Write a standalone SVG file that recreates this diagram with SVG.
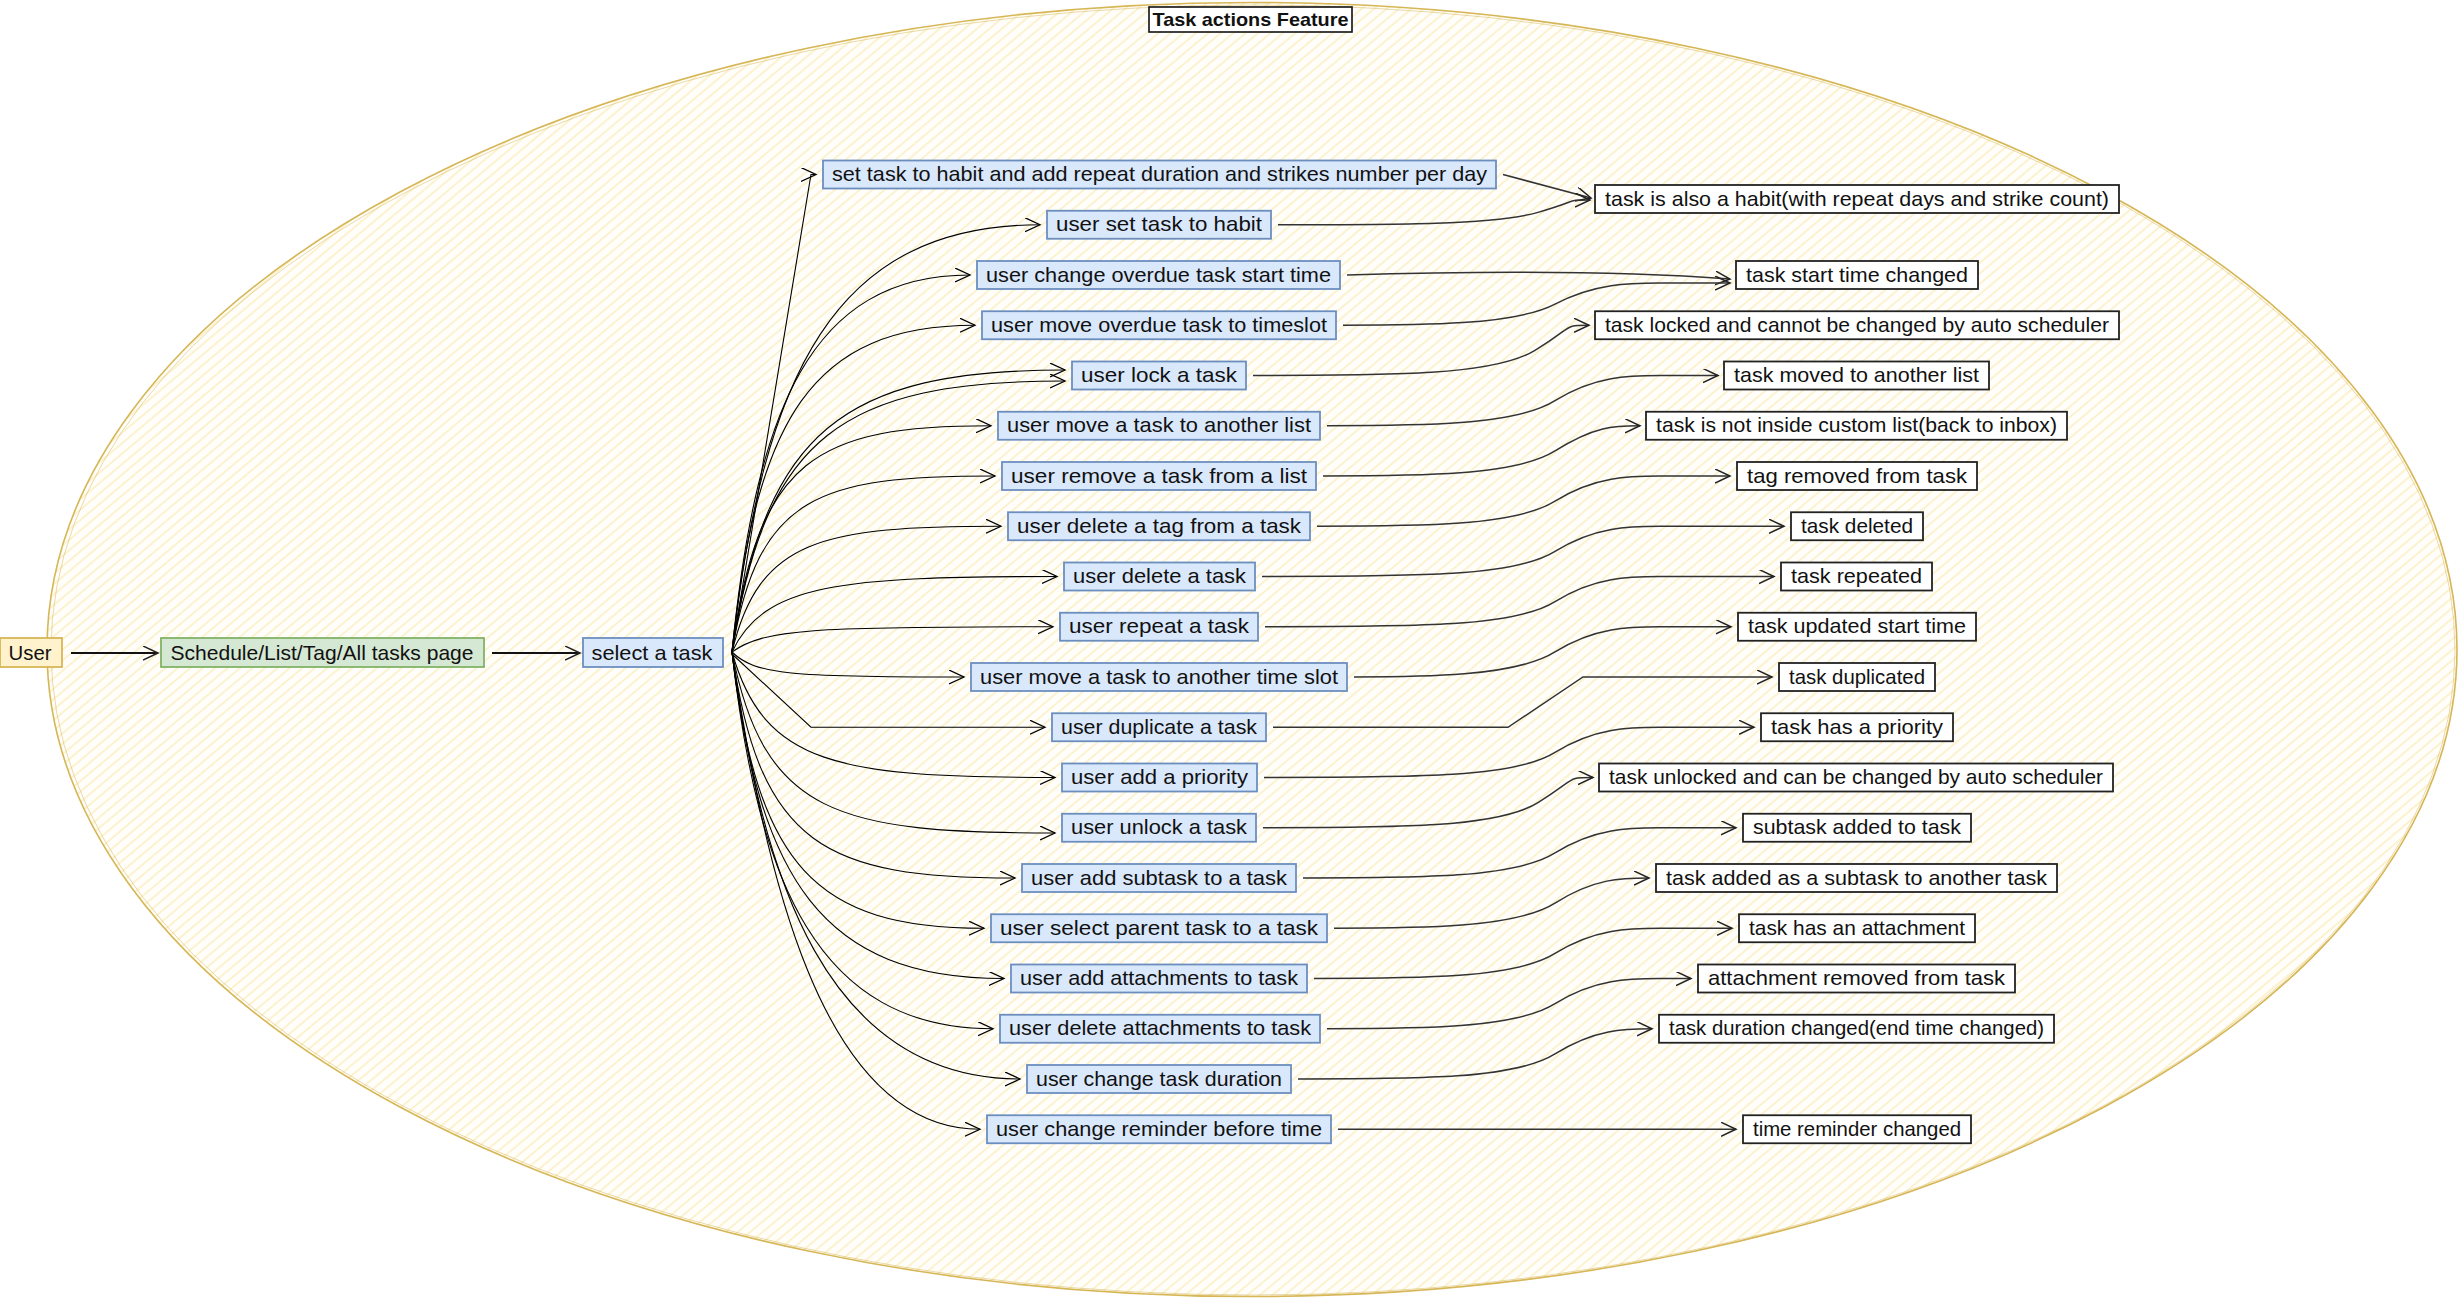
<svg xmlns="http://www.w3.org/2000/svg" width="2460" height="1299" viewBox="0 0 2460 1299">
<defs>
<pattern id="hatch" width="8" height="8" patternUnits="userSpaceOnUse" patternTransform="rotate(50)">
<rect width="8" height="8" fill="#fffefa"/>
<line x1="2" y1="0" x2="2" y2="8" stroke="#fcf0c8" stroke-width="1.7"/>
</pattern>
<marker id="arr" markerUnits="userSpaceOnUse" markerWidth="18" markerHeight="16" refX="15" refY="7" orient="auto">
<path d="M0,0 L15,7 L0,14" fill="none" stroke="#000" stroke-width="1.3"/>
</marker>
<marker id="arr2" markerUnits="userSpaceOnUse" markerWidth="18" markerHeight="16" refX="15" refY="7" orient="auto">
<path d="M0,0 L15,7 L0,14" fill="none" stroke="#222" stroke-width="1.5"/>
</marker>
</defs>
<style>
text{font-family:"Liberation Sans",Arial,sans-serif;font-size:21px;fill:#111;text-anchor:middle}
.blue rect{fill:#dae8fc;stroke:#6c8ebf;stroke-width:1.8}
.res rect{fill:#fff;stroke:#222;stroke-width:1.8}
.fan path{fill:none;stroke:#000;stroke-width:1.1;marker-end:url(#arr)}
.out path{fill:none;stroke:#333;stroke-width:1.5;marker-end:url(#arr2)}
.lead path{fill:none;stroke:#111;stroke-width:2;marker-end:url(#arr2)}
</style>
<rect width="2460" height="1299" fill="#fff"/>
<g id="container">
<ellipse cx="1252" cy="649.5" rx="1205" ry="647" fill="url(#hatch)" stroke="#d6b656" stroke-width="1.6"/>
<ellipse cx="1253" cy="650" rx="1202" ry="645" fill="none" stroke="#d6b656" stroke-width="1" stroke-opacity="0.5"/>
</g>
<g id="title">
<rect x="1149" y="7" width="203" height="25" fill="#fff" stroke="#111" stroke-width="1.6"/>
<text x="1250.5" y="26" style="font-weight:bold;font-size:19px" textLength="196" lengthAdjust="spacingAndGlyphs">Task actions Feature</text>
</g>
<g id="connectors">
<g class="lead">
<path d="M71,653 L158,653"/>
<path d="M492,653 L580,653"/>
</g>
<g class="fan">
<path d="M732,650 L811,174.5 L816,174.5"/>
<path d="M732,652 C763,374 834,224.75 1040,224.75"/>
<path d="M732,652 C756,410 810,275 970,275"/>
<path d="M732,652 C756,418 812,325.25 975,325.25"/>
<path d="M732,652 C765,432 842,370 1065,370"/>
<path d="M732,652 C765,436 842,381 1065,381"/>
<path d="M732,652 C758,457 817,425.75 991,425.75"/>
<path d="M732,652 C758,494 819,476 995,476"/>
<path d="M732,652 C759,539 821,526.25 1001,526.25"/>
<path d="M732,652 C764,584 839,576.5 1057,576.5"/>
<path d="M732,652 C764,629 812,626.75 1053,626.75"/>
<path d="M732,652 C755,674.5 790,677 964,677"/>
<path d="M732,654 L811,727.25 L1045,727.25"/>
<path d="M732,652 C764,765 838,777.5 1055,777.5"/>
<path d="M732,652 C764,815 838,833 1055,833"/>
<path d="M732,652 C760,846 825,878 1015,878"/>
<path d="M732,652 C757,866 815,928.25 984,928.25"/>
<path d="M732,652 C759,879 822,978.5 1004,978.5"/>
<path d="M732,652 C758,883 818,1028.75 993,1028.75"/>
<path d="M732,652 C761,879 827,1079 1020,1079"/>
<path d="M732,652 C764,867 820,1129.25 980,1129.25"/>
</g>
<g class="out">
<path d="M1503,174.5 L1591,198"/>
<path d="M1278,224.75 C1395,224.75 1495,224.75 1538,212.4 S1565,200 1590,200"/>
<path d="M1347,275 Q1580,268 1730,279"/>
<path d="M1343,325.25 C1420,325.25 1515,325.25 1555,304.1 S1630,283 1660,283 L1730,283"/>
<path d="M1253,375.5 C1394,375.5 1494,375.5 1535,350.4 S1562,325.25 1589,325.25"/>
<path d="M1327,425.75 C1420,425.75 1515,425.75 1555,400.6 S1630,375.5 1660,375.5 L1718,375.5"/>
<path d="M1323,476 C1420,476 1515,476 1555,450.9 S1614,425.75 1640,425.75"/>
<path d="M1317,526.25 C1420,526.25 1515,526.25 1555,501.1 S1630,476 1660,476 L1730,476"/>
<path d="M1262,576.5 C1420,576.5 1515,576.5 1555,551.4 S1630,526.25 1660,526.25 L1784,526.25"/>
<path d="M1265,626.75 C1420,626.75 1515,626.75 1555,601.6 S1630,576.5 1660,576.5 L1774,576.5"/>
<path d="M1354,677 C1420,677 1515,677 1555,651.9 S1630,626.75 1660,626.75 L1731,626.75"/>
<path d="M1273,727.25 L1508,727.25 L1583,677 L1772,677"/>
<path d="M1264,777.5 C1420,777.5 1515,777.5 1555,752.4 S1630,727.25 1660,727.25 L1754,727.25"/>
<path d="M1263,827.75 C1398,827.75 1498,827.75 1538,802.6 S1566,777.5 1593,777.5"/>
<path d="M1303,878 C1420,878 1515,878 1555,852.9 S1630,827.75 1660,827.75 L1736,827.75"/>
<path d="M1334,928.25 C1420,928.25 1515,928.25 1555,903.1 S1622,878 1649,878"/>
<path d="M1314,978.5 C1420,978.5 1515,978.5 1555,953.4 S1630,928.25 1660,928.25 L1732,928.25"/>
<path d="M1327,1028.75 C1420,1028.75 1515,1028.75 1555,1003.6 S1630,978.5 1660,978.5 L1691,978.5"/>
<path d="M1298,1079 C1420,1079 1515,1079 1555,1053.9 S1625,1028.75 1652,1028.75"/>
<path d="M1338,1129.25 L1736,1129.25"/>
</g>
</g>
<g id="user"><rect x="0" y="638" width="62" height="29" fill="#fff2cc" stroke="#d6b656" stroke-width="1.8"/><text x="30" y="659.5" textLength="43" lengthAdjust="spacingAndGlyphs">User</text></g>
<g id="page"><rect x="161" y="638" width="323" height="29" fill="#d5e8d4" stroke="#82b366" stroke-width="1.8"/><text x="322" y="659.5" textLength="303" lengthAdjust="spacingAndGlyphs">Schedule/List/Tag/All tasks page</text></g>
<g id="select" class="blue"><rect x="583" y="638" width="140" height="29"/><text x="652" y="659.5" textLength="121" lengthAdjust="spacingAndGlyphs">select a task</text></g>
<g id="a0" class="blue"><rect x="823" y="160.5" width="673" height="28"/><text x="1159.5" y="181" textLength="655" lengthAdjust="spacingAndGlyphs">set task to habit and add repeat duration and strikes number per day</text></g>
<g id="a1" class="blue"><rect x="1047" y="210.75" width="224" height="28"/><text x="1159" y="231.25" textLength="206" lengthAdjust="spacingAndGlyphs">user set task to habit</text></g>
<g id="a2" class="blue"><rect x="977" y="261" width="363" height="28"/><text x="1158.5" y="281.5" textLength="345" lengthAdjust="spacingAndGlyphs">user change overdue task start time</text></g>
<g id="a3" class="blue"><rect x="982" y="311.25" width="354" height="28"/><text x="1159" y="331.75" textLength="336" lengthAdjust="spacingAndGlyphs">user move overdue task to timeslot</text></g>
<g id="a4" class="blue"><rect x="1072" y="361.5" width="174" height="28"/><text x="1159" y="382" textLength="156" lengthAdjust="spacingAndGlyphs">user lock a task</text></g>
<g id="a5" class="blue"><rect x="998" y="411.75" width="322" height="28"/><text x="1159" y="432.25" textLength="304" lengthAdjust="spacingAndGlyphs">user move a task to another list</text></g>
<g id="a6" class="blue"><rect x="1002" y="462" width="314" height="28"/><text x="1159" y="482.5" textLength="296" lengthAdjust="spacingAndGlyphs">user remove a task from a list</text></g>
<g id="a7" class="blue"><rect x="1008" y="512.25" width="302" height="28"/><text x="1159" y="532.75" textLength="284" lengthAdjust="spacingAndGlyphs">user delete a tag from a task</text></g>
<g id="a8" class="blue"><rect x="1064" y="562.5" width="191" height="28"/><text x="1159.5" y="583" textLength="173" lengthAdjust="spacingAndGlyphs">user delete a task</text></g>
<g id="a9" class="blue"><rect x="1060" y="612.75" width="198" height="28"/><text x="1159" y="633.25" textLength="180" lengthAdjust="spacingAndGlyphs">user repeat a task</text></g>
<g id="a10" class="blue"><rect x="971" y="663" width="376" height="28"/><text x="1159" y="683.5" textLength="358" lengthAdjust="spacingAndGlyphs">user move a task to another time slot</text></g>
<g id="a11" class="blue"><rect x="1052" y="713.25" width="214" height="28"/><text x="1159" y="733.75" textLength="196" lengthAdjust="spacingAndGlyphs">user duplicate a task</text></g>
<g id="a12" class="blue"><rect x="1062" y="763.5" width="195" height="28"/><text x="1159.5" y="784" textLength="177" lengthAdjust="spacingAndGlyphs">user add a priority</text></g>
<g id="a13" class="blue"><rect x="1062" y="813.75" width="194" height="28"/><text x="1159" y="834.25" textLength="176" lengthAdjust="spacingAndGlyphs">user unlock a task</text></g>
<g id="a14" class="blue"><rect x="1022" y="864" width="274" height="28"/><text x="1159" y="884.5" textLength="256" lengthAdjust="spacingAndGlyphs">user add subtask to a task</text></g>
<g id="a15" class="blue"><rect x="991" y="914.25" width="336" height="28"/><text x="1159" y="934.75" textLength="318" lengthAdjust="spacingAndGlyphs">user select parent task to a task</text></g>
<g id="a16" class="blue"><rect x="1011" y="964.5" width="296" height="28"/><text x="1159" y="985" textLength="278" lengthAdjust="spacingAndGlyphs">user add attachments to task</text></g>
<g id="a17" class="blue"><rect x="1000" y="1014.75" width="320" height="28"/><text x="1160" y="1035.25" textLength="302" lengthAdjust="spacingAndGlyphs">user delete attachments to task</text></g>
<g id="a18" class="blue"><rect x="1027" y="1065" width="264" height="28"/><text x="1159" y="1085.5" textLength="246" lengthAdjust="spacingAndGlyphs">user change task duration</text></g>
<g id="a19" class="blue"><rect x="987" y="1115.25" width="344" height="28"/><text x="1159" y="1135.75" textLength="326" lengthAdjust="spacingAndGlyphs">user change reminder before time</text></g>
<g id="r0" class="res"><rect x="1595" y="185" width="524" height="28"/><text x="1857" y="205.5" textLength="504" lengthAdjust="spacingAndGlyphs">task is also a habit(with repeat days and strike count)</text></g>
<g id="r1" class="res"><rect x="1736" y="261" width="242" height="28"/><text x="1857" y="281.5" textLength="222" lengthAdjust="spacingAndGlyphs">task start time changed</text></g>
<g id="r2" class="res"><rect x="1595" y="311.25" width="524" height="28"/><text x="1857" y="331.75" textLength="504" lengthAdjust="spacingAndGlyphs">task locked and cannot be changed by auto scheduler</text></g>
<g id="r3" class="res"><rect x="1724" y="361.5" width="265" height="28"/><text x="1856.5" y="382" textLength="245" lengthAdjust="spacingAndGlyphs">task moved to another list</text></g>
<g id="r4" class="res"><rect x="1646" y="411.75" width="421" height="28"/><text x="1856.5" y="432.25" textLength="401" lengthAdjust="spacingAndGlyphs">task is not inside custom list(back to inbox)</text></g>
<g id="r5" class="res"><rect x="1737" y="462" width="240" height="28"/><text x="1857" y="482.5" textLength="220" lengthAdjust="spacingAndGlyphs">tag removed from task</text></g>
<g id="r6" class="res"><rect x="1791" y="512.25" width="132" height="28"/><text x="1857" y="532.75" textLength="112" lengthAdjust="spacingAndGlyphs">task deleted</text></g>
<g id="r7" class="res"><rect x="1781" y="562.5" width="151" height="28"/><text x="1856.5" y="583" textLength="131" lengthAdjust="spacingAndGlyphs">task repeated</text></g>
<g id="r8" class="res"><rect x="1738" y="612.75" width="238" height="28"/><text x="1857" y="633.25" textLength="218" lengthAdjust="spacingAndGlyphs">task updated start time</text></g>
<g id="r9" class="res"><rect x="1779" y="663" width="156" height="28"/><text x="1857" y="683.5" textLength="136" lengthAdjust="spacingAndGlyphs">task duplicated</text></g>
<g id="r10" class="res"><rect x="1761" y="713.25" width="192" height="28"/><text x="1857" y="733.75" textLength="172" lengthAdjust="spacingAndGlyphs">task has a priority</text></g>
<g id="r11" class="res"><rect x="1599" y="763.5" width="514" height="28"/><text x="1856" y="784" textLength="494" lengthAdjust="spacingAndGlyphs">task unlocked and can be changed by auto scheduler</text></g>
<g id="r12" class="res"><rect x="1743" y="813.75" width="228" height="28"/><text x="1857" y="834.25" textLength="208" lengthAdjust="spacingAndGlyphs">subtask added to task</text></g>
<g id="r13" class="res"><rect x="1656" y="864" width="401" height="28"/><text x="1856.5" y="884.5" textLength="381" lengthAdjust="spacingAndGlyphs">task added as a subtask to another task</text></g>
<g id="r14" class="res"><rect x="1739" y="914.25" width="236" height="28"/><text x="1857" y="934.75" textLength="216" lengthAdjust="spacingAndGlyphs">task has an attachment</text></g>
<g id="r15" class="res"><rect x="1698" y="964.5" width="317" height="28"/><text x="1856.5" y="985" textLength="297" lengthAdjust="spacingAndGlyphs">attachment removed from task</text></g>
<g id="r16" class="res"><rect x="1659" y="1014.75" width="395" height="28"/><text x="1856.5" y="1035.25" textLength="375" lengthAdjust="spacingAndGlyphs">task duration changed(end time changed)</text></g>
<g id="r17" class="res"><rect x="1743" y="1115.25" width="228" height="28"/><text x="1857" y="1135.75" textLength="208" lengthAdjust="spacingAndGlyphs">time reminder changed</text></g>
</svg>
